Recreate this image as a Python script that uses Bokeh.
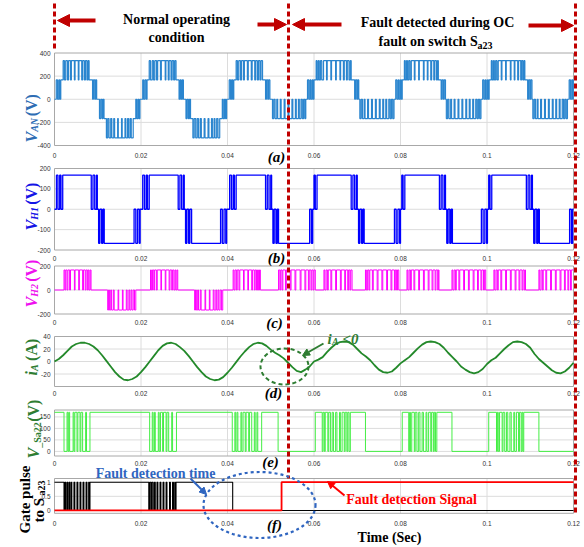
import math

from bokeh.core.properties import value
from bokeh.embed import file_html
from bokeh.models import Arrow, NormalHead, Range1d
from bokeh.plotting import figure
from bokeh.resources import INLINE

# ---------------------------------------------------------------------------
# Data: switching waveforms as (time in ms, level after the edge) pairs
# ---------------------------------------------------------------------------
XTICKS = [0, 0.02, 0.04, 0.06, 0.08, 0.1, 0.12]
XTICK_LABELS = ["0", "0.02", "0.04", "0.06", "0.08", "0.1", "0.12"]

VAN_TICKS = [-400, -200, 0, 200, 400]
VH1_TICKS = [-200, -100, 0, 100, 200]
VH2_TICKS = [-200, 0, 200]
IA_TICKS = [-20, 0, 20, 40]
VSA_TICKS = [0, 50, 100, 150]
GATE_TICKS = [0, 0.5, 1]
GATE_TICK_LABELS = ["0", "0.5", "1"]

# phase voltage V_AN (five levels before the fault, -333 level lost after it)
VAN_EDGES = [
    (0, 0), (0.4, 167), (0.7, 0), (1.0, 167), (1.2, 0), (1.45, 167),
    (2.0, 334), (2.3, 167), (2.6, 334), (3.0, 167), (3.25, 334), (3.7, 167), (3.9, 334), (4.6, 167),
    (4.75, 334), (5.5, 167), (5.65, 334), (6.3, 167), (6.5, 334), (6.9, 167), (7.15, 334), (7.5, 167),
    (7.75, 334), (8.0, 167), (8.8, 0), (9.0, 167), (9.3, 0), (9.5, 167), (9.75, 0),
    (10.4, -167), (10.7, 0), (11.0, -167), (11.2, 0), (11.45, -167),
    (12.0, -334), (12.3, -167), (12.6, -334), (13.0, -167), (13.25, -334), (13.7, -167), (13.9, -334),
    (14.6, -167), (14.75, -334), (15.5, -167), (15.65, -334), (16.3, -167), (16.5, -334), (16.9, -167),
    (17.15, -334), (17.5, -167), (17.75, -334), (18.2, -167),
    (18.8, 0), (19.0, -167), (19.3, 0), (19.5, -167), (19.75, 0),
    (20.4, 167), (20.6, 0), (20.9, 167), (21.2, 0), (21.4, 167),
    (21.9, 334), (22.2, 167), (22.6, 334), (22.9, 167), (23.2, 334), (23.6, 167), (23.85, 334), (24.5, 167),
    (24.7, 334), (25.6, 167), (25.75, 334), (26.3, 167), (26.5, 334), (26.95, 167), (27.2, 334), (27.55, 167),
    (27.8, 334), (28.1, 167), (28.8, 0), (29.05, 167), (29.3, 0), (29.55, 167), (29.8, 0),
    (30.4, -167), (30.65, 0), (30.95, -167), (31.2, 0), (31.45, -167),
    (32.0, -334), (32.3, -167), (32.65, -334), (33.0, -167), (33.3, -334), (33.7, -167), (33.95, -334),
    (34.6, -167), (34.8, -334), (35.5, -167), (35.7, -334), (36.3, -167), (36.5, -334), (36.9, -167),
    (37.1, -334), (37.5, -167), (37.8, -334), (38.2, -167),
    (38.8, 0), (39.0, -167), (39.3, 0), (39.55, -167), (39.8, 0),
    (40.4, 167), (40.7, 0), (40.95, 167), (41.2, 0), (41.45, 167),
    (42.0, 334), (42.3, 167), (42.6, 334), (43.0, 167), (43.25, 334), (43.7, 167), (43.9, 334), (44.6, 167),
    (44.8, 334), (45.5, 167), (45.7, 334), (46.3, 167), (46.5, 334), (46.9, 167), (47.15, 334), (47.5, 167),
    (47.75, 334), (48.1, 167), (48.8, 0), (49.0, 167), (49.3, 0), (49.5, 167), (49.8, 0),
    (50.4, -167), (50.7, 0), (51.0, -167), (51.4, 0), (51.6, -167), (52.2, 0), (52.4, -167), (53.1, 0),
    (53.3, -167), (54.0, 0), (54.2, -167), (54.9, 0), (55.1, -167), (55.7, 0), (55.9, -167), (56.4, 0),
    (56.6, -167), (57.0, 0), (57.3, -167), (57.6, 0), (57.9, -167), (58.1, 0),
    (58.5, 167), (58.8, 0), (59.1, 167), (59.3, 0), (59.6, 167), (59.8, 0), (60.0, 167),
    (60.5, 334), (60.7, 167), (61.0, 334), (61.2, 167), (61.5, 334), (61.8, 167), (62.2, 334), (62.9, 167),
    (63.05, 334), (63.9, 167), (64.05, 334), (65.0, 167), (65.15, 334), (66.0, 167), (66.15, 334),
    (66.8, 167), (67.0, 334), (67.5, 167), (67.7, 334), (68.1, 167), (68.4, 334), (68.6, 167),
    (69.4, 0), (69.6, 167), (69.9, 0), (70.1, 167), (70.35, 0),
    (70.6, -167), (70.9, 0), (71.2, -167), (71.6, 0), (71.8, -167), (72.4, 0), (72.6, -167), (73.3, 0),
    (73.5, -167), (74.2, 0), (74.4, -167), (75.1, 0), (75.3, -167), (75.9, 0), (76.1, -167), (76.6, 0),
    (76.8, -167), (77.3, 0), (77.6, -167), (77.9, 0), (78.2, -167), (78.5, 0),
    (78.9, 167), (79.2, 0), (79.5, 167), (79.7, 0), (80.0, 167), (80.2, 0), (80.4, 167),
    (80.9, 334), (81.1, 167), (81.4, 334), (81.6, 167), (81.9, 334), (82.2, 167), (82.5, 334), (83.2, 167),
    (83.35, 334), (84.2, 167), (84.35, 334), (85.3, 167), (85.45, 334), (86.2, 167), (86.35, 334),
    (87.0, 167), (87.2, 334), (87.7, 167), (87.9, 334), (88.3, 167), (88.55, 334), (88.75, 167),
    (89.4, 0), (89.6, 167), (89.9, 0), (90.1, 167), (90.4, 0),
    (90.6, -167), (90.9, 0), (91.2, -167), (91.6, 0), (91.8, -167), (92.4, 0), (92.6, -167), (93.3, 0),
    (93.5, -167), (94.2, 0), (94.4, -167), (95.1, 0), (95.3, -167), (95.9, 0), (96.1, -167), (96.7, 0),
    (96.9, -167), (97.4, 0), (97.7, -167), (98.0, 0), (98.3, -167), (98.6, 0),
    (99.0, 167), (99.3, 0), (99.6, 167), (99.8, 0), (100.1, 167), (100.3, 0), (100.5, 167),
    (101.0, 334), (101.2, 167), (101.5, 334), (101.7, 167), (102.0, 334), (102.3, 167), (102.6, 334),
    (103.3, 167), (103.45, 334), (104.3, 167), (104.45, 334), (105.4, 167), (105.55, 334), (106.3, 167),
    (106.45, 334), (107.1, 167), (107.3, 334), (107.8, 167), (108.0, 334), (108.3, 167), (108.55, 334),
    (108.75, 167), (109.4, 0), (109.6, 167), (109.9, 0), (110.1, 167), (110.4, 0),
    (110.6, -167), (110.9, 0), (111.2, -167), (111.6, 0), (111.8, -167), (112.4, 0), (112.6, -167),
    (113.3, 0), (113.5, -167), (114.2, 0), (114.4, -167), (115.1, 0), (115.3, -167), (115.9, 0),
    (116.1, -167), (116.7, 0), (116.9, -167), (117.4, 0), (117.7, -167), (118.0, 0), (118.3, -167),
    (118.6, 0), (119.0, 167), (119.3, 0), (119.6, 167), (119.8, 0), (119.95, 167),
]

# H-bridge 1 output V_H1
VH1_EDGES = [
    (0, 0), (0.45, 167), (0.8, 0), (1.2, 167), (1.5, 0), (1.9, 167),
    (8.5, 0), (8.9, 167), (9.3, 0), (9.7, 167), (9.9, 0),
    (10.2, -167), (10.5, 0), (10.9, -167), (11.2, 0), (11.5, -167),
    (18.4, 0), (18.8, -167), (19.2, 0), (19.6, -167), (19.8, 0),
    (20.4, 167), (20.8, 0), (21.2, 167), (21.5, 0), (21.9, 167),
    (28.6, 0), (29.0, 167), (29.4, 0), (29.8, 167), (30.0, 0),
    (30.3, -167), (30.6, 0), (31.0, -167), (31.3, 0), (31.7, -167),
    (38.4, 0), (38.8, -167), (39.2, 0), (39.6, -167), (39.8, 0),
    (40.5, 167), (40.9, 0), (41.3, 167), (41.6, 0), (42.0, 167),
    (48.8, 0), (49.2, 167), (49.6, 0), (50.0, 167), (50.2, 0),
    (50.5, -167), (50.8, 0), (51.2, -167), (51.5, 0), (51.8, -167),
    (59.0, 0), (59.4, -167), (59.7, 0), (60.0, 167), (60.3, 0), (60.7, 167),
    (68.6, 0), (69.0, 167), (69.4, 0), (69.8, 167), (70.0, 0),
    (70.3, -167), (70.6, 0), (71.0, -167), (71.3, 0), (71.6, -167),
    (78.6, 0), (79.0, -167), (79.4, 0), (79.8, -167), (80.0, 0), (80.3, 167), (80.6, 0), (81.0, 167),
    (89.0, 0), (89.4, 167), (89.8, 0), (90.2, 167), (90.4, 0),
    (90.7, -167), (91.0, 0), (91.4, -167), (91.7, 0), (92.0, -167),
    (98.7, 0), (99.1, -167), (99.5, 0), (99.9, -167), (100.1, 0), (100.4, 167), (100.7, 0), (101.1, 167),
    (109.1, 0), (109.5, 167), (109.9, 0), (110.3, 167), (110.5, 0),
    (110.8, -167), (111.1, 0), (111.5, -167), (111.8, 0), (112.1, -167),
    (119.1, 0), (119.5, -167), (119.8, 0),
]

# H-bridge 2 output V_H2
VH2_EDGES = [
    (0, 0), (2.2, 167), (2.4, 0), (2.6, 167), (2.9, 0), (3.1, 167), (3.5, 0), (3.7, 167), (4.6, 0),
    (4.75, 167), (5.6, 0), (5.75, 167), (6.5, 0), (6.7, 167), (7.1, 0), (7.3, 167), (7.6, 0), (7.8, 167),
    (8.0, 0), (8.25, 167), (8.45, 0),
    (12.3, -167), (12.5, 0), (12.7, -167), (13.0, 0), (13.2, -167), (13.6, 0), (13.8, -167), (14.7, 0),
    (14.85, -167), (15.7, 0), (15.85, -167), (16.6, 0), (16.8, -167), (17.2, 0), (17.4, -167), (17.7, 0),
    (17.9, -167), (18.2, 0), (18.5, -167), (18.8, 0),
    (22.2, 167), (22.4, 0), (22.65, 167), (22.95, 0), (23.15, 167), (23.55, 0), (23.75, 167), (24.6, 0),
    (24.75, 167), (25.6, 0), (25.75, 167), (26.5, 0), (26.7, 167), (27.1, 0), (27.3, 167), (27.6, 0),
    (27.85, 167), (28.05, 0), (28.3, 167), (28.5, 0),
    (32.4, -167), (32.6, 0), (32.8, -167), (33.1, 0), (33.3, -167), (33.7, 0), (33.9, -167), (34.8, 0),
    (34.95, -167), (35.8, 0), (35.95, -167), (36.7, 0), (36.9, -167), (37.3, 0), (37.5, -167), (37.8, 0),
    (38.0, -167), (38.3, 0), (38.6, -167), (38.9, 0),
    (41.3, 167), (41.5, 0), (41.75, 167), (42.05, 0), (42.25, 167), (42.65, 0), (42.85, 167), (43.7, 0),
    (43.85, 167), (44.7, 0), (44.85, 167), (45.6, 0), (45.8, 167), (46.2, 0), (46.4, 167), (46.7, 0),
    (46.95, 167), (47.15, 0), (47.4, 167), (47.6, 0),
    (51.8, 167), (52.1, 0), (52.3, 167), (52.6, 0), (52.8, 167), (53.4, 0), (53.6, 167), (54.5, 0),
    (54.7, 167), (55.6, 0), (55.8, 167), (56.8, 0), (57.0, 167), (57.9, 0), (58.1, 167), (58.7, 0),
    (58.9, 167), (59.3, 0), (59.5, 167), (59.8, 0), (60.0, 167), (60.3, 0),
    (62.3, 167), (62.5, 0), (62.8, 167), (63.1, 0), (63.3, 167), (63.9, 0), (64.1, 167), (65.0, 0),
    (65.2, 167), (66.1, 0), (66.3, 167), (67.1, 0), (67.3, 167), (67.8, 0), (68.0, 167), (68.3, 0),
    (68.5, 167), (68.8, 0),
    (71.9, 167), (72.1, 0), (72.4, 167), (72.7, 0), (72.9, 167), (73.5, 0), (73.7, 167), (74.6, 0),
    (74.8, 167), (75.7, 0), (75.9, 167), (76.8, 0), (77.0, 167), (77.8, 0), (78.0, 167), (78.6, 0),
    (78.8, 167), (79.1, 0), (79.3, 167), (79.6, 0),
    (81.5, 167), (81.7, 0), (82.0, 167), (82.3, 0), (82.5, 167), (83.1, 0), (83.3, 167), (84.2, 0),
    (84.4, 167), (85.3, 0), (85.5, 167), (86.4, 0), (86.6, 167), (87.3, 0), (87.5, 167), (88.0, 0),
    (88.2, 167), (88.6, 0), (88.75, 167), (88.9, 0),
    (91.9, 167), (92.1, 0), (92.4, 167), (92.7, 0), (92.9, 167), (93.5, 0), (93.7, 167), (94.6, 0),
    (94.8, 167), (95.7, 0), (95.9, 167), (96.8, 0), (97.0, 167), (97.8, 0), (98.0, 167), (98.6, 0),
    (98.8, 167), (99.2, 0), (99.4, 167), (99.7, 0),
    (101.6, 167), (101.8, 0), (102.1, 167), (102.4, 0), (102.6, 167), (103.2, 0), (103.4, 167),
    (104.3, 0), (104.5, 167), (105.4, 0), (105.6, 167), (106.5, 0), (106.7, 167), (107.4, 0),
    (107.6, 167), (108.1, 0), (108.3, 167), (108.6, 0), (108.75, 167), (108.9, 0),
    (112.0, 167), (112.2, 0), (112.5, 167), (112.8, 0), (113.0, 167), (113.6, 0), (113.8, 167),
    (114.7, 0), (114.9, 167), (115.8, 0), (116.0, 167), (116.9, 0), (117.1, 167), (117.9, 0),
    (118.1, 167), (118.7, 0), (118.9, 167), (119.3, 0), (119.5, 167),
]

# phase current i_A, one sample per millisecond from 0 to 120 ms
IA_TIME_MS = list(range(0, 121))
IA_VALUES = [
    0, 4, 10, 17, 24, 28, 30, 30, 28, 24, 18, 10, 1, -8, -17, -24, -29, -30, -28, -24,
    -17, -9, 0, 9, 18, 25, 29, 30, 28, 23, 17, 9, 0, -9, -17, -24, -28, -30, -29, -25,
    -18, -10, -1, 8, 16, 23, 28, 30, 29, 25, 19, 14, 10, 5, -2, -9, -15, -17, -13, -8,
    0, 3, 7, 15, 22, 28, 31, 32, 31, 27, 20, 13, 8, 2, -6, -13, -17, -18, -16, -10,
    -3, 2, 7, 14, 21, 27, 31, 32, 31, 28, 22, 14, 7, 0, -8, -13, -17, -19, -17, -12,
    -4, 2, 6, 13, 20, 26, 31, 32, 31, 28, 22, 12, 4, -2, -8, -14, -18, -19, -16, -10,
    -2,
]

# voltage across switch Sa22
VSA_EDGES = [
    (0, 170), (2.2, 0), (2.9, 170), (3.1, 0), (3.3, 170), (3.5, 0), (4.3, 170), (4.5, 0), (4.7, 170),
    (5.2, 0), (5.4, 170), (5.9, 0), (6.1, 170), (6.5, 0), (7.2, 170), (7.4, 0), (8.2, 170),
    (22.0, 0), (22.6, 170), (22.8, 0), (23.1, 170), (23.3, 0), (24.0, 170), (24.2, 0), (24.5, 170),
    (25.0, 0), (25.2, 170), (25.8, 0), (26.0, 170), (26.4, 0), (27.1, 170), (27.3, 0), (28.2, 170),
    (41.1, 0), (41.7, 170), (41.9, 0), (42.2, 170), (42.4, 0), (43.1, 170), (43.3, 0), (43.6, 170),
    (44.1, 0), (44.3, 170), (44.9, 0), (45.1, 170), (45.6, 0), (46.2, 170), (46.4, 0), (46.8, 170),
    (47.0, 0), (47.9, 170),
    (51.7, 0), (60.3, 170), (61.9, 0), (62.1, 170), (62.4, 0), (62.6, 170), (63.2, 0), (63.4, 170),
    (63.8, 0), (64.2, 170), (64.5, 0), (65.0, 170), (65.3, 0), (65.9, 170), (66.1, 0), (66.5, 170),
    (67.0, 0), (67.2, 170), (67.6, 0), (67.8, 170), (68.1, 0), (68.4, 170),
    (71.9, 0), (80.4, 170), (81.9, 0), (82.1, 170), (82.3, 0), (82.6, 170), (83.2, 0), (83.4, 170),
    (83.8, 0), (84.2, 170), (84.5, 0), (85.0, 170), (85.3, 0), (85.9, 170), (86.1, 0), (86.5, 170),
    (87.0, 0), (87.2, 170), (87.6, 0), (87.8, 170), (88.1, 0), (88.4, 170),
    (91.9, 0), (100.4, 170), (102.2, 0), (102.4, 170), (102.6, 0), (102.9, 170), (103.5, 0),
    (103.7, 170), (104.1, 0), (104.5, 170), (104.8, 0), (105.3, 170), (105.6, 0), (106.2, 170),
    (106.4, 0), (106.8, 170), (107.3, 0), (107.5, 170), (107.9, 0), (108.1, 170), (108.3, 0),
    (108.5, 170), (112.0, 0),
]

# gate pulse applied to Sa23 and the fault detection flag
GATE_EDGES = [
    (0, 1), (2.2, 0), (2.4, 1), (2.6, 0), (2.9, 1), (3.1, 0), (3.4, 1), (3.6, 0), (3.9, 1), (4.0, 0),
    (4.5, 1), (4.7, 0), (5.2, 1), (5.4, 0), (5.9, 1), (6.1, 0), (6.6, 1), (6.8, 0), (7.3, 1), (7.5, 0),
    (7.9, 1), (8.05, 0), (8.2, 1),
    (21.8, 0), (22.0, 1), (22.3, 0), (22.5, 1), (22.8, 0), (23.1, 1), (23.3, 0), (23.7, 1), (23.9, 0),
    (24.4, 1), (24.6, 0), (25.1, 1), (25.3, 0), (25.8, 1), (26.0, 0), (26.6, 1), (26.8, 0), (27.3, 1),
    (27.5, 0), (27.8, 1), (27.95, 0), (28.1, 1),
    (41.2, 0),
]
FAULT_FLAG_EDGES = [(0, 0), (52.5, 1)]

T_END_MS = 120.0

# ---------------------------------------------------------------------------
# Layout: one canvas, each panel gets its own y range mapped onto a band
# ---------------------------------------------------------------------------
W, H = 584, 547
X0_PX, X1_PX = 54.0, 573.0            # canvas columns of t = 0 and t = 0.12 s
S_PER_PX = 0.12 / (X1_PX - X0_PX)

# panel: (value at band top, band top row, value at band bottom, band bottom row)
GEOM = {
    "a": (400, 52.5, -400, 145.0),
    "b": (200, 168.0, -200, 249.5),
    "c": (200, 265.5, -200, 313.5),
    "d": (40, 336.0, -40, 386.0),
    "e": (180, 409.5, -20, 455.5),
    "f": (1.13, 478.0, -0.1, 512.8),
}
XLABEL_ROW = {"a": 155, "b": 258, "c": 322, "d": 393, "e": 463, "f": 523}

SERIF = "Liberation Serif"
SANS = "Liberation Sans"
DARK_RED = "#c00000"


def band_range(v_top, y_top, v_bot, y_bot):
    k = (v_top - v_bot) / (y_bot - y_top)
    return Range1d(start=v_bot - k * (H - y_bot), end=v_top + k * y_top)


p = figure(
    width=W, height=H, output_backend="svg", toolbar_location=None,
    x_range=Range1d(-X0_PX * S_PER_PX, (W - X0_PX) * S_PER_PX),
    y_range=Range1d(H, 0),
    x_axis_location=None, y_axis_location=None, min_border=0,
)
p.grid.visible = False
p.outline_line_color = None
p.background_fill_color = "white"
p.border_fill_color = "white"
p.extra_x_ranges = {"px": Range1d(0, W)}
p.extra_y_ranges = {k: band_range(*g) for k, g in GEOM.items()}


def steps(edges):
    t = [e[0] / 1000.0 for e in edges] + [T_END_MS / 1000.0]
    v = [e[1] for e in edges] + [edges[-1][1]]
    return t, v


def panel_frame(name, yticks, ylabels=None, grid_vals=None):
    v_top, _, v_bot, _ = GEOM[name]
    gv = grid_vals if grid_vals is not None else [y for y in yticks if v_bot < y < v_top]
    if gv:
        p.segment(x0=[0] * len(gv), x1=[0.12] * len(gv), y0=gv, y1=gv,
                  y_range_name=name, line_color="#dcdcdc", line_width=1)
    xs = XTICKS[1:-1]
    p.segment(x0=xs, x1=xs, y0=[v_bot] * len(xs), y1=[v_top] * len(xs),
              y_range_name=name, line_color="#dcdcdc", line_width=1)
    p.quad(left=[0], right=[0.12], top=[v_top], bottom=[v_bot], y_range_name=name,
           fill_color=None, line_color="#a8a8a8", line_width=1)
    labels = ylabels if ylabels is not None else [str(y) for y in yticks]
    p.text(x=[X0_PX - 4] * len(yticks), y=yticks, text=labels, x_range_name="px",
           y_range_name=name, text_font=value(SANS), text_font_size="6.5px",
           text_color="#333333", text_align="right", text_baseline="middle")
    p.text(x=XTICKS, y=[XLABEL_ROW[name]] * len(XTICKS), text=XTICK_LABELS,
           text_font=value(SANS), text_font_size="6.5px", text_color="#333333",
           text_align="center", text_baseline="middle")


panel_frame("a", VAN_TICKS)
panel_frame("b", VH1_TICKS)
panel_frame("c", VH2_TICKS)
panel_frame("d", IA_TICKS, grid_vals=[-20, 0, 20])
panel_frame("e", VSA_TICKS)
panel_frame("f", GATE_TICKS, ylabels=GATE_TICK_LABELS)

# waveforms
t, v = steps(VAN_EDGES)
p.step(t, v, mode="after", y_range_name="a", line_color="#2a85cf", line_width=1.2)
t, v = steps(VH1_EDGES)
p.step(t, v, mode="after", y_range_name="b", line_color="#0000ff", line_width=1.3)
t, v = steps(VH2_EDGES)
p.step(t, v, mode="after", y_range_name="c", line_color="#ff00ff", line_width=1.0)
p.line([m / 1000.0 for m in IA_TIME_MS], IA_VALUES, y_range_name="d",
       line_color="#23892a", line_width=1.8)
t, v = steps(VSA_EDGES)
p.step(t, v, mode="after", y_range_name="e", line_color="#44ee44", line_width=1.0)
t, v = steps(GATE_EDGES)
p.step(t, v, mode="after", y_range_name="f", line_color="black", line_width=1.1)
t, v = steps(FAULT_FLAG_EDGES)
p.step(t, v, mode="after", y_range_name="f", line_color="#ff0000", line_width=1.8)


# rotated axis titles built from pieces (text, size, style, advance, shift)
def rot_label(x_base, y_start, color, pieces):
    y = y_start
    for txt, size, style, adv, dx in pieces:
        p.text(x=[x_base + dx], y=[y], text=[txt], angle=math.pi / 2, x_range_name="px",
               text_font=value(SERIF), text_font_size=f"{size}px", text_font_style=style,
               text_color=color, text_align="left", text_baseline="alphabetic")
        y -= adv


rot_label(31, 142, "#2e6db4", [("V", 16, "bold italic", 10.7, 0), ("AN", 10, "bold italic", 15.5, 3),
                                ("(V)", 16, "bold", 0, 0)])
rot_label(31, 230, "#1414e6", [("V", 16, "bold italic", 10.7, 0), ("H1", 10, "bold italic", 15.0, 3),
                                ("(V)", 16, "bold", 0, 0)])
rot_label(31, 307, "#ee10ee", [("V", 16, "bold italic", 10.7, 0), ("H2", 10, "bold italic", 15.0, 3),
                                ("(V)", 16, "bold", 0, 0)])
rot_label(31, 375, "#2e7d32", [("i", 16, "bold italic", 4.6, 0), ("A", 10, "bold italic", 10.0, 3),
                                ("(A)", 16, "bold", 0, 0)])
rot_label(33, 458, "#2e7d32", [("V", 16, "bold italic", 10.7, 0), ("_Sa22", 10, "bold", 26.0, 4),
                                ("(V)", 16, "bold", 0, 0)])
rot_label(24, 533, "black", [("Gate pulse", 15, "bold", 0, 0)])
rot_label(38, 522, "black", [("to S", 15, "bold", 27.0, 0), ("a23", 10, "bold", 0, 3)])

# panel tags
for tag, (tx, ty) in {"(a)": (276, 156), "(b)": (276, 257), "(c)": (274, 322),
                      "(d)": (273, 392), "(e)": (270, 461), "(f)": (274, 524)}.items():
    p.text(x=[tx], y=[ty], text=[tag], x_range_name="px", text_font=value(SERIF),
           text_font_size="15px", text_font_style="bold italic", text_color="black",
           text_align="center", text_baseline="middle")

# x-axis title
p.text(x=[389], y=[537], text=["Time (Sec)"], x_range_name="px", text_font=value(SERIF),
       text_font_size="14px", text_font_style="bold", text_color="black",
       text_align="center", text_baseline="middle")

# operating-mode banner
BANNER = dict(x_range_name="px", text_font=value(SERIF), text_font_size="14px",
              text_font_style="bold", text_color="black", text_baseline="middle")
p.text(x=[176], y=[19], text=["Normal operating"], text_align="center", **BANNER)
p.text(x=[176], y=[37], text=["condition"], text_align="center", **BANNER)
p.text(x=[437], y=[22], text=["Fault detected during OC"], text_align="center", **BANNER)
p.text(x=[378], y=[41], text=["fault on switch S"], text_align="left", **BANNER)
p.text(x=[477], y=[45], text=["a23"], text_align="left", x_range_name="px",
       text_font=value(SERIF), text_font_size="10px", text_font_style="bold",
       text_color="black", text_baseline="middle")

# vertical dashed markers (start, fault instant, end)
p.segment(x0=[54, 288, 575], x1=[54, 288, 575], y0=[3, 3, 3], y1=[50, 478, 512],
          x_range_name="px", line_color=DARK_RED, line_width=3, line_dash="5 3")


def arrow(x0, y0, x1, y1, color, width, size):
    p.add_layout(Arrow(end=NormalHead(size=size, fill_color=color, line_color=color),
                       x_start=x0, y_start=y0, x_end=x1, y_end=y1, x_range_name="px",
                       line_color=color, line_width=width))


arrow(95, 20, 57, 20, DARK_RED, 4, 12)
arrow(257, 24, 286, 24, DARK_RED, 4, 12)
arrow(341, 24, 292, 24, DARK_RED, 4, 12)
arrow(528, 25, 573, 25, DARK_RED, 4, 12)

# i_A < 0 callout
p.ellipse(x=[284], y=[366], width=[48], height=[36], width_units="screen",
          height_units="screen", x_range_name="px", fill_color=None,
          line_color="#2e7d32", line_width=2, line_dash="4 3")
p.text(x=[327], y=[338], text=["i"], x_range_name="px", text_font=value(SERIF),
       text_font_size="15px", text_font_style="bold italic", text_color="#2e7d32",
       text_align="left", text_baseline="alphabetic")
p.text(x=[331.5], y=[341], text=["A"], x_range_name="px", text_font=value(SERIF),
       text_font_size="10px", text_font_style="bold italic", text_color="#2e7d32",
       text_align="left", text_baseline="alphabetic")
p.text(x=[342], y=[338], text=["<0"], x_range_name="px", text_font=value(SERIF),
       text_font_size="15px", text_font_style="bold italic", text_color="#2e7d32",
       text_align="left", text_baseline="alphabetic")
arrow(323, 343, 302, 355, "#2e7d32", 2, 7)

# fault detection callouts
p.ellipse(x=[259], y=[504.5], width=[112], height=[66], width_units="screen",
          height_units="screen", x_range_name="px", fill_color=None,
          line_color="#2f65c0", line_width=2.2, line_dash="3 3")
p.text(x=[155], y=[473], text=["Fault detection time"], x_range_name="px",
       text_font=value(SERIF), text_font_size="14px", text_font_style="bold",
       text_color="#2f65c0", text_align="center", text_baseline="middle")
arrow(190, 478, 206, 494, "#2f65c0", 2, 7)
p.text(x=[411], y=[499], text=["Fault detection Signal"], x_range_name="px",
       text_font=value(SERIF), text_font_size="14px", text_font_style="bold",
       text_color="#ff0000", text_align="center", text_baseline="middle")
arrow(344, 495, 327, 481, "#ff0000", 2, 7)

open("out.html", "w").write(file_html(p, INLINE))
